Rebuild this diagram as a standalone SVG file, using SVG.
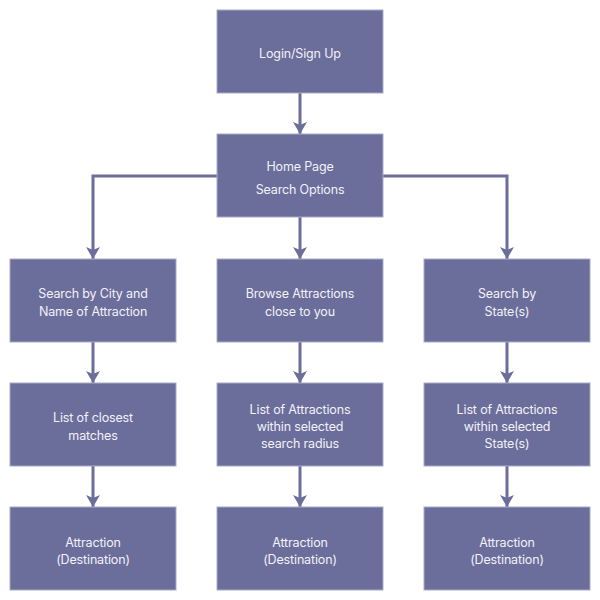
<svg xmlns="http://www.w3.org/2000/svg" width="600" height="600" viewBox="0 0 600 600">
<style>
.box{fill:#6b6d9b;stroke:#a9abc8;stroke-width:1}
.t{font-family:Inter,"Noto Sans",sans-serif;font-size:12.5px;letter-spacing:-0.15px;fill:#f2f2f8;text-anchor:middle;dominant-baseline:central}
.c{fill:none;stroke:#6b6d9b;stroke-width:3}
</style>
<defs>
<marker id="ah" viewBox="0 0 12 14" refX="12" refY="7" markerWidth="12" markerHeight="14" markerUnits="userSpaceOnUse" orient="auto">
<path d="M0,0 L12,7 L0,14 L3,7 Z" fill="#6b6d9b"/>
</marker>
</defs>
<rect width="600" height="600" fill="#ffffff"/>
<g id="connectors">
<path class="c" d="M300,93 V134" marker-end="url(#ah)"/>
<path class="c" d="M217,176 H93 V259" marker-end="url(#ah)"/>
<path class="c" d="M300,217 V259" marker-end="url(#ah)"/>
<path class="c" d="M383,176 H507 V259" marker-end="url(#ah)"/>
<path class="c" d="M93,342 V383" marker-end="url(#ah)"/>
<path class="c" d="M300,342 V383" marker-end="url(#ah)"/>
<path class="c" d="M507,342 V383" marker-end="url(#ah)"/>
<path class="c" d="M93,466 V507" marker-end="url(#ah)"/>
<path class="c" d="M300,466 V507" marker-end="url(#ah)"/>
<path class="c" d="M507,466 V507" marker-end="url(#ah)"/>
</g>
<g id="login"><rect class="box" x="217" y="10" width="166" height="83"/><text class="t" x="300" y="53">Login/Sign Up</text></g>
<g id="home"><rect class="box" x="217" y="134" width="166" height="83"/><text class="t" x="300" y="166">Home Page</text><text class="t" x="300" y="189">Search Options</text></g>
<g id="searchCity"><rect class="box" x="10" y="259" width="166" height="83"/><text class="t" x="93" y="293">Search by City and</text><text class="t" x="93" y="311">Name of Attraction</text></g>
<g id="browse"><rect class="box" x="217" y="259" width="166" height="83"/><text class="t" x="300" y="293">Browse Attractions</text><text class="t" x="300" y="311">close to you</text></g>
<g id="searchState"><rect class="box" x="424" y="259" width="166" height="83"/><text class="t" x="507" y="293">Search by</text><text class="t" x="507" y="311">State(s)</text></g>
<g id="listClosest"><rect class="box" x="10" y="383" width="166" height="83"/><text class="t" x="93" y="417">List of closest</text><text class="t" x="93" y="435">matches</text></g>
<g id="listRadius"><rect class="box" x="217" y="383" width="166" height="83"/><text class="t" x="300" y="409">List of Attractions</text><text class="t" x="300" y="426">within selected</text><text class="t" x="300" y="443">search radius</text></g>
<g id="listState"><rect class="box" x="424" y="383" width="166" height="83"/><text class="t" x="507" y="409">List of Attractions</text><text class="t" x="507" y="426">within selected</text><text class="t" x="507" y="443">State(s)</text></g>
<g id="dest1"><rect class="box" x="10" y="507" width="166" height="83"/><text class="t" x="93" y="542">Attraction</text><text class="t" x="93" y="559">(Destination)</text></g>
<g id="dest2"><rect class="box" x="217" y="507" width="166" height="83"/><text class="t" x="300" y="542">Attraction</text><text class="t" x="300" y="559">(Destination)</text></g>
<g id="dest3"><rect class="box" x="424" y="507" width="166" height="83"/><text class="t" x="507" y="542">Attraction</text><text class="t" x="507" y="559">(Destination)</text></g>
</svg>
